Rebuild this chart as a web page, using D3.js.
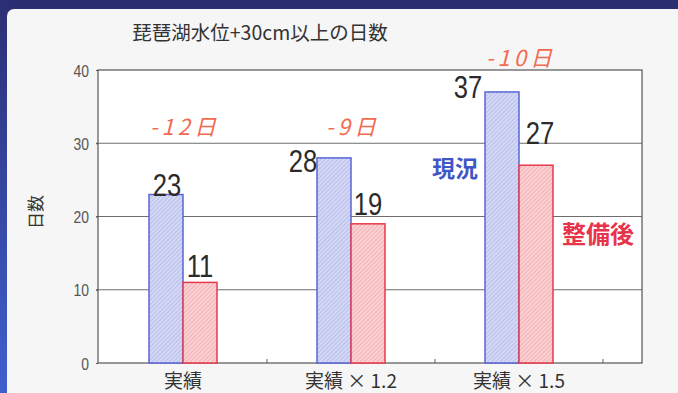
<!DOCTYPE html>
<html>
<head>
<meta charset="utf-8">
<script src="https://cdn.jsdelivr.net/npm/d3@7"></script>
<style>
  html, body { margin: 0; padding: 0; background: #2c2e74; }
  svg { display: block; }
</style>
</head>
<body>
<div id="chart"></div>
<script>
// data
var categories = ['実績', '実績 × 1.2', '実績 × 1.5'];
var seriesNames = ['現況', '整備後'];
var current = [23, 28, 37];
var improved = [11, 19, 27];
var yTicks = [0, 10, 20, 30, 40];

// hand placed label nudges in the original: [dx px, dy px] from bar top center
var currentNudge = [[1, 1], [-31, 14], [-34, 6]];
var improvedNudge = [[0, -5], [0, -9], [4, -21]];
// where the difference notes sit, in axis units
var diffAt = [31.1, 31.1, 40.5];

var W = 678, H = 393;
var plotLeft = 98, plotRight = 642, plotTop = 70, plotBottom = 363;
var numFont = '"Liberation Sans", Arial, sans-serif';

var svg = d3.select('#chart').append('svg')
    .attr('width', W)
    .attr('height', H);

var defs = svg.append('defs');

var grad = defs.append('linearGradient')
    .attr('id', 'edge')
    .attr('x1', 0).attr('y1', 0).attr('x2', 0).attr('y2', 1);
grad.append('stop').attr('offset', '0%').attr('stop-color', '#2c2e74');
grad.append('stop').attr('offset', '100%').attr('stop-color', '#3f5fcf');

function hatch(id, base, line) {
    var p = defs.append('pattern')
        .attr('id', id)
        .attr('patternUnits', 'userSpaceOnUse')
        .attr('width', 3).attr('height', 3)
        .attr('patternTransform', 'rotate(45)');
    p.append('rect').attr('width', 3).attr('height', 3).attr('fill', base);
    p.append('line')
        .attr('x1', 0).attr('y1', 0).attr('x2', 0).attr('y2', 3)
        .attr('stroke', line).attr('stroke-width', 1.2);
}
hatch('hBlue', '#d4d8f5', '#a6aee8');
hatch('hRed', '#fbd2d3', '#f0999f');

// frame: navy banner on top, blue strip on the left
svg.append('rect').attr('width', W).attr('height', H).attr('fill', '#2c2e74');
svg.append('rect').attr('x', 0).attr('y', 0).attr('width', 8).attr('height', H)
    .attr('fill', 'url(#edge)');
svg.append('rect')
    .attr('x', 7).attr('y', 9)
    .attr('width', W).attr('height', H)
    .attr('rx', 7)
    .attr('fill', '#f6f6f6');

// plot area
svg.append('rect')
    .attr('x', plotLeft).attr('y', plotTop)
    .attr('width', plotRight - plotLeft).attr('height', plotBottom - plotTop)
    .attr('fill', '#ffffff');

var y = d3.scaleLinear()
    .domain([0, 40])
    .range([plotBottom, plotTop]);

var x0 = d3.scaleBand()
    .domain(categories)
    .range([99, 603]);

var groupW = 68;
var x1 = d3.scaleBand()
    .domain(seriesNames)
    .range([0, groupW]);

function barX(cat, s) {
    return x0(cat) + (x0.bandwidth() - groupW) / 2 + x1(s);
}

// grid lines
svg.append('g')
    .selectAll('line')
    .data(yTicks.slice(1, -1))
    .enter()
    .append('line')
    .attr('x1', plotLeft - 2)
    .attr('x2', plotRight)
    .attr('y1', function (d) { return y(d); })
    .attr('y2', function (d) { return y(d); })
    .attr('stroke', '#6e6e6e')
    .attr('stroke-width', 1);

// y axis, labels squeezed to match the narrow face
var yAxis = svg.append('g')
    .attr('transform', 'translate(' + plotLeft + ',0)')
    .attr('font-size', null)
    .call(d3.axisLeft(y).tickValues(yTicks).tickSize(2).tickPadding(0));
yAxis.select('.domain').remove();
yAxis.selectAll('line').attr('stroke', '#555');
yAxis.selectAll('text')
    .attr('x', null)
    .attr('dy', '0.36em')
    .attr('transform', 'translate(-9,0) scale(0.82,1)')
    .attr('fill', '#555')
    .attr('font-size', 17)
    .style('font-family', numFont)
    .style('font-size', '17px');

// x axis, tick marks point inward at band edges
var xAxis = svg.append('g')
    .attr('transform', 'translate(0,' + plotBottom + ')')
    .call(d3.axisBottom(x0).tickSize(0).tickPadding(0));
xAxis.select('.domain').remove();
xAxis.selectAll('text').remove();
xAxis.selectAll('.tick')
    .append('line')
    .attr('x1', x0.bandwidth() / 2).attr('x2', x0.bandwidth() / 2)
    .attr('y1', 0).attr('y2', -4)
    .attr('stroke', '#666');

svg.append('g')
    .selectAll('text')
    .data(categories)
    .enter()
    .append('text')
    .attr('x', function (d) { return x0(d) + x0.bandwidth() / 2; })
    .attr('y', 388)
    .attr('text-anchor', 'middle')
    .attr('fill', '#333')
    .style('font-family', '"Noto Sans CJK JP", sans-serif')
    .style('font-size', '19px')
    .text(function (d) { return d; });

// plot border
svg.append('rect')
    .attr('x', plotLeft).attr('y', plotTop)
    .attr('width', plotRight - plotLeft).attr('height', plotBottom - plotTop)
    .attr('fill', 'none')
    .attr('stroke', '#555')
    .attr('stroke-width', 1.2);

// bars
var series = [
    {name: seriesNames[0], values: current, fill: 'url(#hBlue)', stroke: '#5a65d6', nudge: currentNudge},
    {name: seriesNames[1], values: improved, fill: 'url(#hRed)', stroke: '#e8384c', nudge: improvedNudge}
];

series.forEach(function (s) {
    svg.append('g')
        .selectAll('rect')
        .data(s.values)
        .enter()
        .append('rect')
        .attr('x', function (d, i) { return barX(categories[i], s.name); })
        .attr('y', function (d) { return y(d); })
        .attr('width', x1.bandwidth())
        .attr('height', function (d) { return y(0) - y(d); })
        .attr('fill', s.fill)
        .attr('stroke', s.stroke)
        .attr('stroke-width', 1.5);

    svg.append('g')
        .selectAll('text')
        .data(s.values)
        .enter()
        .append('text')
        .attr('transform', function (d, i) {
            var tx = barX(categories[i], s.name) + x1.bandwidth() / 2 + s.nudge[i][0];
            var ty = y(d) + s.nudge[i][1];
            return 'translate(' + tx + ',' + ty + ') scale(0.8,1)';
        })
        .attr('text-anchor', 'middle')
        .attr('fill', '#2a2a2a')
        .style('font-family', numFont)
        .style('font-size', '32px')
        .text(function (d) { return d; });
});

// difference notes
svg.append('g')
    .selectAll('text')
    .data(categories)
    .enter()
    .append('text')
    .attr('x', function (d) { return x0(d) + x0.bandwidth() / 2 + 2; })
    .attr('y', function (d, i) { return y(diffAt[i]); })
    .attr('text-anchor', 'middle')
    .attr('fill', '#f26a4f')
    .style('font-family', '"Noto Sans CJK JP", sans-serif')
    .style('font-style', 'italic')
    .style('font-size', '22px')
    .style('letter-spacing', '4px')
    .text(function (d, i) { return '-' + (current[i] - improved[i]) + '日'; });

// series names written inside the chart
svg.append('text')
    .attr('x', 432).attr('y', 177)
    .attr('fill', '#4156c6')
    .style('font-family', '"Noto Sans CJK JP", sans-serif')
    .style('font-weight', 'bold')
    .style('font-size', '23px')
    .text(seriesNames[0]);

svg.append('text')
    .attr('x', 562).attr('y', 243)
    .attr('fill', '#e8344a')
    .style('font-family', '"Noto Sans CJK JP", sans-serif')
    .style('font-weight', 'bold')
    .style('font-size', '24px')
    .text(seriesNames[1]);

// title and axis name
svg.append('text')
    .attr('x', 260).attr('y', 40)
    .attr('text-anchor', 'middle')
    .attr('fill', '#333')
    .style('font-family', '"Noto Sans CJK JP", sans-serif')
    .style('font-size', '19.5px')
    .text('琵琶湖水位+30cm以上の日数');

svg.append('text')
    .attr('transform', 'translate(42,212) rotate(-90)')
    .attr('text-anchor', 'middle')
    .attr('fill', '#333')
    .style('font-family', '"Noto Sans CJK JP", sans-serif')
    .style('font-size', '17px')
    .text('日数');
</script>
</body>
</html>
